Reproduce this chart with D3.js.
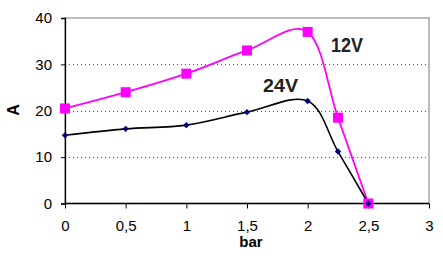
<!DOCTYPE html>
<html><head><meta charset="utf-8">
<script src="https://cdn.jsdelivr.net/npm/d3@7"></script>
<style>body{margin:0;background:#fff}svg{display:block}text{font-family:"Liberation Sans",Arial,sans-serif}</style>
</head><body><svg id="c" width="443" height="256"></svg>
<script>
const xValues = [0, 0.5, 1, 1.5, 2, 2.25, 2.5];
const v12 = [20.5, 24, 28, 33, 37, 18.5, 0];
const v24 = [14.7, 16.1, 16.9, 19.7, 22.1, 11.2, 0];
const xTicks = [0, 0.5, 1, 1.5, 2, 2.5, 3];
const yTicks = [0, 10, 20, 30, 40];

const svg = d3.select("#c");
const L = 65, R = 429, T = 18, B = 203.5;
const x = d3.scaleLinear().domain([0, 3]).range([L, R]);
const y = d3.scaleLinear().domain([0, 40]).range([B, T]);
const fmt = d => String(d).replace(".", ",");

// plot border
svg.append("rect").attr("x", L).attr("y", T).attr("width", R - L).attr("height", B - T)
  .attr("fill", "none").attr("stroke", "#999").attr("stroke-width", 1.3);
// gridlines
svg.append("g").selectAll("line").data([10, 20, 30]).join("line")
  .attr("x1", L).attr("x2", R).attr("y1", d => Math.round(y(d)) + 0.5).attr("y2", d => Math.round(y(d)) + 0.5)
  .attr("stroke", "#555").attr("stroke-dasharray", "1,3");

const yAxis = svg.append("g").attr("transform", `translate(${L},0)`)
  .call(d3.axisLeft(y).tickValues(yTicks).tickSize(4).tickPadding(9));
const xAxis = svg.append("g").attr("transform", `translate(0,${B})`)
  .call(d3.axisBottom(x).tickValues(xTicks).tickFormat(fmt).tickSize(5).tickPadding(12));
[yAxis, xAxis].forEach(a => {
  a.select(".domain").attr("stroke", "#000").attr("stroke-width", 1.3);
  a.selectAll(".tick line").attr("stroke", "#000");
  a.selectAll("text").attr("font-size", 15).attr("fill", "#000").attr("font-family", '"Liberation Sans",Arial,sans-serif');
});
xAxis.select(".domain").attr("d", `M${L},0H${R}`);

const line = d3.line().x((d, i) => x(xValues[i])).y(d => y(d)).curve(d3.curveCatmullRom.alpha(0));

svg.append("path").datum(v12).attr("d", line).attr("fill", "none").attr("stroke", "#ff00ff").attr("stroke-width", 1.8);
svg.append("path").datum(v24).attr("d", line).attr("fill", "none").attr("stroke", "#000").attr("stroke-width", 1.6);

svg.append("g").selectAll("rect").data(v12).join("rect")
  .attr("x", (d, i) => x(xValues[i]) - 5).attr("y", d => y(d) - 5)
  .attr("width", 10).attr("height", 10).attr("fill", "#ff00ff");
svg.append("g").selectAll("path").data(v24).join("path")
  .attr("transform", (d, i) => `translate(${x(xValues[i])},${y(d)})`)
  .attr("d", "M0,-3.2L3.2,0L0,3.2L-3.2,0Z").attr("fill", "#000080");

svg.append("text").attr("x", 331).attr("y", 52).attr("font-size", 20).attr("font-weight", "bold").attr("fill", "#222")
  .attr("textLength", 32).attr("lengthAdjust", "spacingAndGlyphs").text("12V");
svg.append("text").attr("x", 263).attr("y", 92).attr("font-size", 19).attr("font-weight", "bold").attr("fill", "#222")
  .attr("textLength", 35).attr("lengthAdjust", "spacingAndGlyphs").text("24V");
svg.append("text").attr("x", 251).attr("y", 247).attr("text-anchor", "middle").attr("font-size", 15).attr("font-weight", "bold").text("bar");
svg.append("text").attr("transform", "translate(19,110) rotate(-90)").attr("text-anchor", "middle").attr("font-size", 16).attr("font-weight", "bold").text("A");
</script></body></html>
